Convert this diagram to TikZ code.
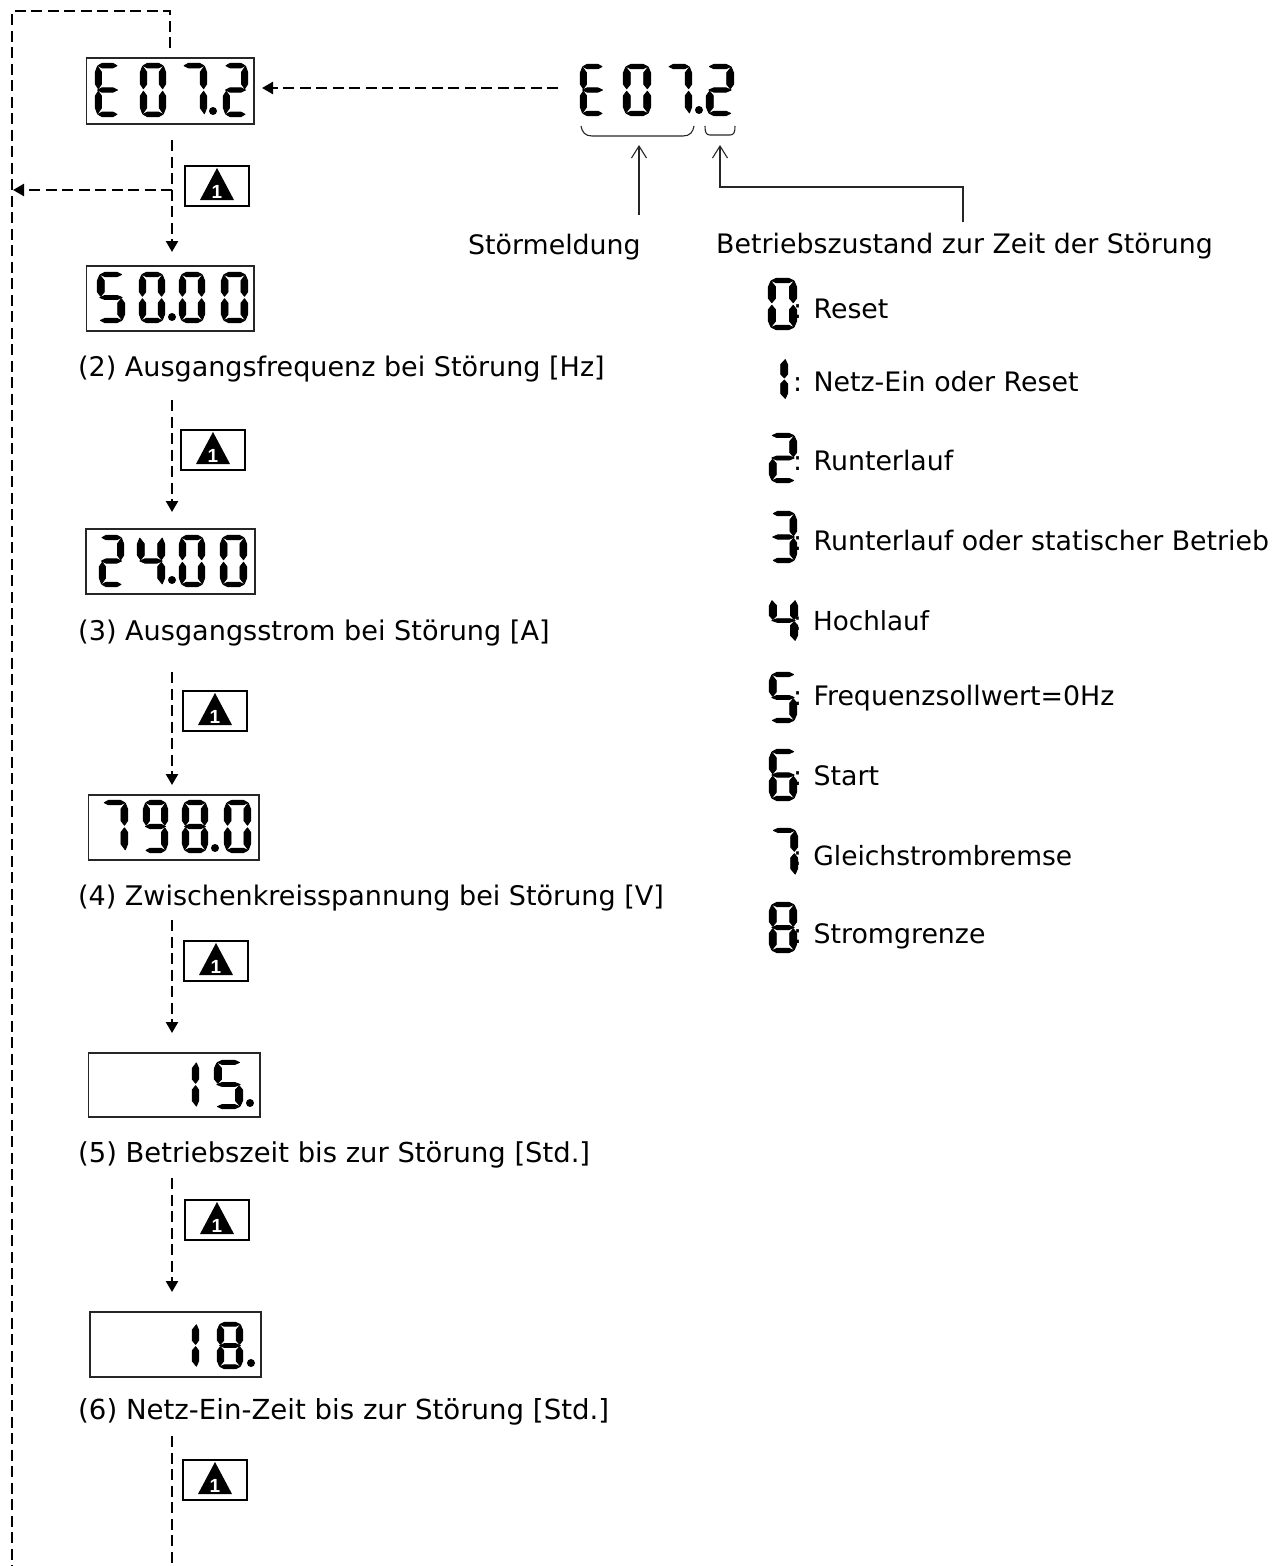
\documentclass[tikz,border=0pt]{standalone}
\usepackage{fontspec}
\setmainfont{DejaVu Sans}
\newfontfamily\warnfont{Liberation Sans}
\usetikzlibrary{arrows.meta,calc}
\tikzset{
  x=1pt,y=-1pt,
  dispbox/.style={draw=black!85,line width=1.2pt,inner sep=0pt,fill=none},
  warnbox/.style={draw=black,line width=1.4pt,inner sep=0pt,minimum width=64pt,minimum height=40pt},
  warnnum/.style={inner sep=0pt,text=white,font=\warnfont\bfseries\fontsize{19}{19}\selectfont},
  lbl/.style={anchor=base west,inner sep=0pt,font=\fontsize{26.8}{30}\selectfont},
  lbll/.style={anchor=base west,inner sep=0pt,font=\fontsize{27}{30}\selectfont},
  dashline/.style={draw=black,line width=2.4pt,dash pattern=on 11pt off 5.5pt},
  dasharrow/.style={dashline,-{Stealth[length=11pt,width=12pt,inset=0pt]}},
  thin line/.style={draw=black!85,line width=1.1pt},
  openarrow/.style={thin line,-{Straight Barb[length=12pt,width=15pt]}},
  segm/.style={fill=black,draw=black,line width=.9pt,line join=round},
}
\newcommand\ssga{\path[segm] (.12,.05)--(.28,.008)--(.72,.008)--(.88,.05)--(.72,.09)--(.28,.09)--cycle;}
\newcommand\ssgd{\path[segm] (.12,.95)--(.28,.992)--(.72,.992)--(.88,.95)--(.72,.91)--(.28,.91)--cycle;}
\newcommand\ssgg{\path[segm] (.1,.5)--(.28,.46)--(.72,.46)--(.9,.5)--(.72,.54)--(.28,.54)--cycle;}
\newcommand\ssgf{\path[segm] (.1,.06)--(.26,.17)--(.26,.39)--(.13,.475)--(.015,.39)--(.015,.17)--cycle;}
\newcommand\ssge{\path[segm] (.1,.94)--(.26,.83)--(.26,.61)--(.13,.525)--(.015,.61)--(.015,.83)--cycle;}
\newcommand\ssgb{\path[segm] (.9,.06)--(.74,.17)--(.74,.39)--(.87,.475)--(.985,.39)--(.985,.17)--cycle;}
\newcommand\ssgc{\path[segm] (.9,.94)--(.74,.83)--(.74,.61)--(.87,.525)--(.985,.61)--(.985,.83)--cycle;}
% x, y, w, h, segments (a macro holding the list)
\newcommand\sseg[5]{\begin{scope}[shift={(#1,#2)},xscale=#3,yscale=#4]
  \foreach \s in #5{\csname ssg\s\endcsname}\end{scope}}
\newcommand\sdot[2]{\fill (#1,#2) circle[radius=4pt];}
\def\dE{a,f,g,e,d}\def\dO{a,b,c,d,e,f}\def\dI{b,c}\def\dII{a,b,g,e,d}\def\dIII{a,b,g,c,d}
\def\dIV{f,g,b,c}\def\dV{a,f,g,c,d}\def\dVI{a,f,g,e,c,d}\def\dVII{a,b,c}\def\dVIII{a,b,c,d,e,f,g}\def\dIX{a,b,c,d,f,g}
\newcommand\warn[3]{%
  \node[warnbox] (#1) at (#2,#3) {};
  \fill ($(#2,#3)+(0,-18)$) -- ($(#2,#3)+(17,14)$) -- ($(#2,#3)+(-17,14)$) -- cycle;
  \node[warnnum] (#1n) at ($(#2,#3)+(0,5.5)$) {1};}
\begin{document}
\begin{tikzpicture}
\useasboundingbox (0,0) rectangle (1282,1566);
% display boxes
\node[dispbox,minimum width=167.5pt,minimum height=66pt] (d1) at (170.25,91) {};
\node[dispbox,minimum width=167.5pt,minimum height=65pt] (d2) at (170.25,298.5) {};
\node[dispbox,minimum width=169pt,minimum height=65pt] (d3) at (170.5,561.5) {};
\node[dispbox,minimum width=170.5pt,minimum height=65pt] (d4) at (173.75,827.5) {};
\node[dispbox,minimum width=171.5pt,minimum height=64pt] (d5) at (174.25,1085) {};
\node[dispbox,minimum width=171pt,minimum height=65pt] (d6) at (175.5,1344.5) {};
% display digits
\sseg{95}{63}{25}{54}{\dE}\sseg{140}{63}{26}{54}{\dO}\sseg{181}{63}{26}{54}{\dVII}\sdot{213}{111}\sseg{223}{63}{25}{54}{\dII}
\sseg{97}{272}{28}{51}{\dV}\sseg{139}{272}{26}{51}{\dO}\sdot{172}{317}\sseg{179}{272}{26}{51}{\dO}\sseg{221}{272}{27}{51}{\dO}
\sseg{99}{535}{25}{52}{\dII}\sseg{137}{535}{28}{52}{\dIV}\sdot{172}{580}\sseg{179}{535}{26}{52}{\dO}\sseg{220}{535}{27}{52}{\dO}
\sseg{101}{800}{27}{53}{\dVII}\sseg{143}{800}{25}{53}{\dIX}\sseg{182}{800}{26}{53}{\dVIII}\sdot{215}{848}\sseg{224}{800}{27}{53}{\dO}
\sseg{173}{1060}{26}{49}{\dI}\sseg{214}{1060}{29}{49}{\dV}\sdot{250}{1103}
\sseg{173}{1322}{26}{47}{\dI}\sseg{217}{1322}{26}{47}{\dVIII}\sdot{251}{1363}
% right-hand code
\sseg{580}{64}{25}{52}{\dE}\sseg{623}{64}{28}{52}{\dO}\sseg{666}{64}{26}{52}{\dVII}\sdot{699}{110}\sseg{706}{64}{28}{52}{\dII}
% state list
\sseg{768}{278}{29}{52}{\dO}
\sseg{760}{357}{28}{44}{\dI}
\sseg{769}{433}{28}{50}{\dII}
\sseg{770}{511}{27}{52}{\dIII}
\sseg{769}{598}{29}{45}{\dIV}
\sseg{769}{672}{28}{51}{\dV}
\sseg{769}{749}{28}{52}{\dVI}
\sseg{770}{828}{28}{49}{\dVII}
\sseg{769}{902}{28}{51}{\dVIII}
% warning boxes
\warn{w1}{217}{186}
\warn{w2}{213}{450}
\warn{w3}{215}{711}
\warn{w4}{216}{961}
\warn{w5}{217}{1220}
\warn{w6}{215}{1480}
% labels
\node[lbll] (l2) at (78,376) {(2) Ausgangsfrequenz bei Störung [Hz]};
\node[lbll,font=\fontsize{27.1}{30}\selectfont] (l3) at (78,640) {(3) Ausgangsstrom bei Störung [A]};
\node[lbll] (l4) at (78,905) {(4) Zwischenkreisspannung bei Störung [V]};
\node[lbll,font=\fontsize{27.4}{30}\selectfont] (l5) at (78,1162) {(5) Betriebszeit bis zur Störung [Std.]};
\node[lbll,font=\fontsize{27.6}{30}\selectfont] (l6) at (78,1419) {(6) Netz-Ein-Zeit bis zur Störung [Std.]};
\node[lbl] (sm) at (468,254) {Störmeldung};
\node[lbl] (bz) at (716,253) {Betriebszustand zur Zeit der Störung};
\node[lbl] (s0) at (793,318) {: Reset};
\node[lbl] (s1) at (793,391) {: Netz-Ein oder Reset};
\node[lbl] (s2) at (793,470) {: Runterlauf};
\node[lbl] (s3) at (793,550) {: Runterlauf oder statischer Betrieb};
\node[lbl,font=\fontsize{26.2}{30}\selectfont] (s4) at (793,630) {: Hochlauf};
\node[lbl] (s5) at (793,705) {: Frequenzsollwert=0Hz};
\node[lbl] (s6) at (793,785) {: Start};
\node[lbl,font=\fontsize{26.5}{30}\selectfont] (s7) at (793,865) {: Gleichstrombremse};
\node[lbl] (s8) at (793,943) {: Stromgrenze};
% free ends
\coordinate (topr) at (170,11);
\coordinate (topl) at (12,11);
\coordinate (botl) at (12,1566);
\coordinate (src) at (558,88);
\coordinate (ar1) at (262,88);
\coordinate (a0) at (170,48);
\coordinate (a1) at (172,140);
\coordinate (a2) at (172,252);
\coordinate (br) at (172,190);
\coordinate (brl) at (13,190);
\coordinate (b1) at (172,400);\coordinate (b2) at (172,512);
\coordinate (c1) at (172,672);\coordinate (c2) at (172,785);
\coordinate (e1) at (172,920);\coordinate (e2) at (172,1033);
\coordinate (f1) at (172,1178);\coordinate (f2) at (172,1292);
\coordinate (g1) at (172,1436);\coordinate (g2) at (172,1566);
\draw[dashline] (a0) -- (topr) -- (topl) -- (botl);
\draw[dasharrow] (src) -- (ar1);
\draw[dasharrow] (a1) -- (a2);
\draw[dasharrow] (br) -- (brl);
\draw[dasharrow] (b1) -- (b2);
\draw[dasharrow] (c1) -- (c2);
\draw[dasharrow] (e1) -- (e2);
\draw[dasharrow] (f1) -- (f2);
\draw[dashline] (g1) -- (g2);
% braces and pointers
\coordinate (bl1) at (581,126);\coordinate (bl2) at (694,126);
\coordinate (br1) at (705,126);\coordinate (br2) at (735,126);
\draw[thin line] (bl1) .. controls (582,132) and (585,136) .. (592,136) -- (683,136) .. controls (690,136) and (693,132) .. (bl2);
\draw[thin line] (br1) .. controls (705,132) and (706,135) .. (710,135) -- (730,135) .. controls (734,135) and (735,132) .. (br2);
\coordinate (p1) at (639,215);\coordinate (p2) at (639,145);
\draw[openarrow] (p1) -- (p2);
\coordinate (q1) at (963,222);\coordinate (q2) at (963,187);\coordinate (q3) at (720,187);\coordinate (q4) at (720,145);
\draw[openarrow] (q1) -- (q2) -- (q3) -- (q4);
\end{tikzpicture}
\end{document}
